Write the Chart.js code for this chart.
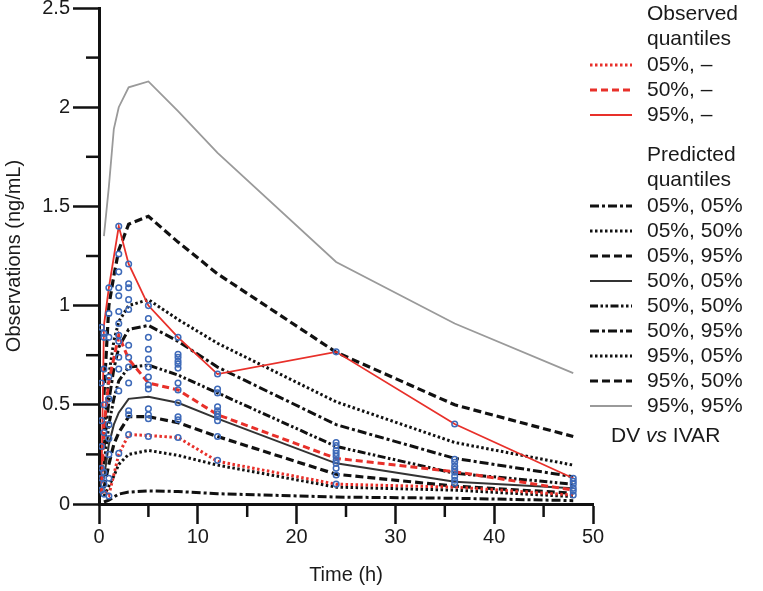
<!DOCTYPE html>
<html>
<head>
<meta charset="utf-8">
<script src="https://cdn.jsdelivr.net/npm/chart.js@4"></script>
<style>
  body { margin: 0; background: #fff; }
  canvas { display: block; }
</style>
</head>
<body>
<canvas id="vpcChart" width="763" height="591"></canvas>
<script>
// observed time bins and observed quantile values (ng/mL)
const obsTimes = [0.25, 0.5, 1, 2, 3, 5, 8, 12, 24, 36, 48];
const obs05 = [0.08, 0.07, 0.045, 0.25, 0.35, 0.345, 0.335, 0.215, 0.10, 0.085, 0.045];
const obs50 = [0.05, 0.39, 0.62, 0.85, 0.73, 0.61, 0.575, 0.45, 0.23, 0.163, 0.07];
const obs95 = [0.10, 0.90, 1.09, 1.40, 1.21, 1.00, 0.84, 0.655, 0.767, 0.403, 0.13];

// predicted quantiles (percentile of simulated quantile, confidence)
const predTimes = [0.5, 1, 1.5, 2, 3, 5, 8, 12, 24, 36, 48];
const p05_05 = [0.01, 0.02, 0.035, 0.05, 0.06, 0.066, 0.063, 0.052, 0.035, 0.029, 0.017];
const p05_50 = [0.04, 0.09, 0.14, 0.20, 0.25, 0.27, 0.245, 0.196, 0.085, 0.07, 0.037];
const p05_95 = [0.08, 0.20, 0.30, 0.36, 0.44, 0.44, 0.41, 0.34, 0.15, 0.09, 0.054];
const p50_05 = [0.13, 0.30, 0.40, 0.46, 0.53, 0.54, 0.51, 0.43, 0.205, 0.112, 0.079];
const p50_50 = [0.20, 0.40, 0.53, 0.62, 0.69, 0.70, 0.65, 0.56, 0.29, 0.155, 0.10];
const p50_95 = [0.28, 0.52, 0.68, 0.79, 0.88, 0.90, 0.82, 0.69, 0.40, 0.23, 0.138];
const p95_05 = [0.35, 0.65, 0.82, 0.92, 1.00, 1.03, 0.93, 0.81, 0.515, 0.31, 0.196];
const p95_50 = [0.55, 1.00, 1.15, 1.28, 1.41, 1.45, 1.32, 1.16, 0.765, 0.50, 0.34];
const p95_95 = [1.35, 1.60, 1.89, 2.00, 2.10, 2.13, 1.98, 1.77, 1.22, 0.91, 0.66];

// individual observations (DV), grouped by nominal time
const dvTimes = [0.25, 0.5, 1, 2, 3, 5, 8, 12, 24, 36, 48];
const dvValues = [
  [0.07, 0.13, 0.18, 0.29, 0.42, 0.61, 0.89],
  [0.05, 0.10, 0.16, 0.36, 0.50, 0.68, 0.84, 0.86],
  [0.04, 0.13, 0.25, 0.33, 0.40, 0.53, 0.64, 0.84, 0.96, 1.09],
  [1.40, 1.26, 1.17, 1.09, 1.05, 0.97, 0.91, 0.85, 0.82, 0.74, 0.68, 0.57, 0.255],
  [1.21, 1.11, 1.09, 1.03, 0.98, 0.80, 0.74, 0.69, 0.61, 0.47, 0.45, 0.35],
  [1.00, 0.935, 0.84, 0.78, 0.73, 0.69, 0.64, 0.60, 0.58, 0.48, 0.45, 0.43, 0.34],
  [0.84, 0.755, 0.74, 0.72, 0.705, 0.685, 0.61, 0.575, 0.51, 0.44, 0.425, 0.335],
  [0.655, 0.58, 0.56, 0.49, 0.47, 0.455, 0.44, 0.42, 0.34, 0.22],
  [0.767, 0.31, 0.295, 0.27, 0.255, 0.24, 0.22, 0.205, 0.18, 0.146, 0.10],
  [0.403, 0.225, 0.21, 0.19, 0.175, 0.16, 0.14, 0.12, 0.105],
  [0.13, 0.115, 0.10, 0.08, 0.065, 0.045]
];

const FONT = "'Liberation Sans', Arial, sans-serif";
const RED = "#e8302a";
const BLACK = "#111";

function pts(xs, ys) {
  return xs.map((x, i) => ({ x: x, y: ys[i] }));
}

function lineSet(label, times, values, color, width, dash, order) {
  return {
    type: "line",
    label: label,
    data: pts(times, values),
    borderColor: color,
    borderWidth: width,
    borderDash: dash,
    borderCapStyle: "butt",
    pointRadius: 0,
    tension: 0,
    fill: false,
    order: order
  };
}

const dotted = [2.5, 2.5];
const dashed = [8, 4];
const dashDot = [9, 3, 3, 3];
const dashDotDot = [8, 2.5, 2.5, 2.5, 2.5, 2.5];

const obsSets = [
  lineSet("05%, –", obsTimes, obs05, RED, 3, dotted, 1),
  lineSet("50%, –", obsTimes, obs50, RED, 3, [7, 4], 1),
  lineSet("95%, –", obsTimes, obs95, RED, 1.8, [], 1)
];
const predSets = [
  lineSet("05%, 05%", predTimes, p05_05, BLACK, 3, dashDot, 2),
  lineSet("05%, 50%", predTimes, p05_50, BLACK, 3, dotted, 2),
  lineSet("05%, 95%", predTimes, p05_95, BLACK, 3.2, dashed, 2),
  lineSet("50%, 05%", predTimes, p50_05, "#333", 2, [], 2),
  lineSet("50%, 50%", predTimes, p50_50, BLACK, 3, dashDotDot, 2),
  lineSet("50%, 95%", predTimes, p50_95, BLACK, 3, dashDot, 2),
  lineSet("95%, 05%", predTimes, p95_05, BLACK, 3, dotted, 2),
  lineSet("95%, 50%", predTimes, p95_50, BLACK, 3.2, dashed, 2),
  lineSet("95%, 95%", predTimes, p95_95, "#9a9a9a", 1.8, [], 2)
];

const dvPoints = [];
dvTimes.forEach((t, i) => dvValues[i].forEach(v => dvPoints.push({ x: t, y: v })));

// minor ticks at the half steps of both axes
const minorTicks = {
  id: "minorTicks",
  afterDraw(chart) {
    const ctx = chart.ctx;
    const xs = chart.scales.x, ys = chart.scales.y;
    ctx.save();
    ctx.strokeStyle = BLACK;
    ctx.lineWidth = 2.5;
    for (let v = 0.25; v < 2.5; v += 0.5) {
      const py = ys.getPixelForValue(v);
      ctx.beginPath();
      ctx.moveTo(xs.left - 13, py);
      ctx.lineTo(xs.left, py);
      ctx.stroke();
    }
    for (let t = 5; t < 50; t += 10) {
      const px = xs.getPixelForValue(t);
      ctx.beginPath();
      ctx.moveTo(px, ys.bottom);
      ctx.lineTo(px, ys.bottom + 13);
      ctx.stroke();
    }
    ctx.restore();
  }
};

// legend on the right, drawn with the datasets' own line styles
const sideLegend = {
  id: "sideLegend",
  afterDraw(chart) {
    const ctx = chart.ctx;
    const x0 = 590, x1 = 632, tx = 647;
    ctx.save();
    ctx.font = "21px " + FONT;
    ctx.fillStyle = "#1a1a1a";
    ctx.textBaseline = "middle";
    ctx.textAlign = "left";

    function row(ds, y) {
      ctx.save();
      ctx.strokeStyle = ds.borderColor;
      ctx.lineWidth = ds.borderWidth;
      ctx.setLineDash(ds.borderDash);
      ctx.beginPath();
      ctx.moveTo(x0, y);
      ctx.lineTo(x1, y);
      ctx.stroke();
      ctx.restore();
      ctx.fillText(ds.label, tx, y);
    }

    ctx.fillText("Observed", tx, 14);
    ctx.fillText("quantiles", tx, 39);
    obsSets.forEach((ds, i) => row(ds, 65 + 25 * i));
    ctx.fillText("Predicted", tx, 155);
    ctx.fillText("quantiles", tx, 180);
    predSets.forEach((ds, i) => row(ds, 206 + 25 * i));

    let x = 611;
    const y = 436;
    ctx.fillText("DV ", x, y);
    x += ctx.measureText("DV ").width;
    ctx.font = "italic 21px " + FONT;
    ctx.fillText("vs", x, y);
    x += ctx.measureText("vs").width;
    ctx.font = "21px " + FONT;
    ctx.fillText(" IVAR", x, y);
    ctx.restore();
  }
};

const ctx = document.getElementById("vpcChart").getContext("2d");
const vpcChart = new Chart(ctx, {
  data: {
    datasets: [
      {
        type: "scatter",
        label: "DV vs IVAR",
        data: dvPoints,
        pointStyle: "circle",
        pointRadius: 2.8,
        pointBorderWidth: 1.5,
        pointBorderColor: "#3d69b8",
        pointBackgroundColor: "rgba(255,255,255,0)",
        order: 0
      },
      ...obsSets,
      ...predSets
    ]
  },
  options: {
    responsive: false,
    animation: false,
    layout: { padding: { top: 0, right: 170, left: 0, bottom: 0 } },
    plugins: {
      legend: { display: false },
      tooltip: { enabled: false }
    },
    scales: {
      x: {
        type: "linear",
        min: 0,
        max: 50,
        ticks: { stepSize: 10, color: "#1a1a1a", font: { family: FONT, size: 20 }, padding: 1 },
        grid: { drawOnChartArea: false, tickLength: 20, tickWidth: 2.5, tickColor: BLACK },
        border: { width: 3, color: BLACK },
        title: { display: true, text: "Time (h)", color: "#1a1a1a", font: { family: FONT, size: 20 }, padding: { top: 4, bottom: 4 } },
        afterFit(scale) { scale.height = 87; }
      },
      y: {
        type: "linear",
        min: 0,
        max: 2.5,
        ticks: {
          stepSize: 0.5,
          color: "#1a1a1a",
          font: { family: FONT, size: 20, lineHeight: 1 },
          padding: 3,
          callback: value => String(value)
        },
        grid: { drawOnChartArea: false, tickLength: 26, tickWidth: 2.5, tickColor: BLACK },
        border: { width: 3, color: BLACK },
        title: { display: true, text: "Observations (ng/mL)", color: "#1a1a1a", font: { family: FONT, size: 20 }, padding: { top: 2, bottom: 4 } },
        afterFit(scale) {
          scale.width = 99;
          scale.paddingTop = 8;
        }
      }
    }
  },
  plugins: [minorTicks, sideLegend]
});
</script>
</body>
</html>
